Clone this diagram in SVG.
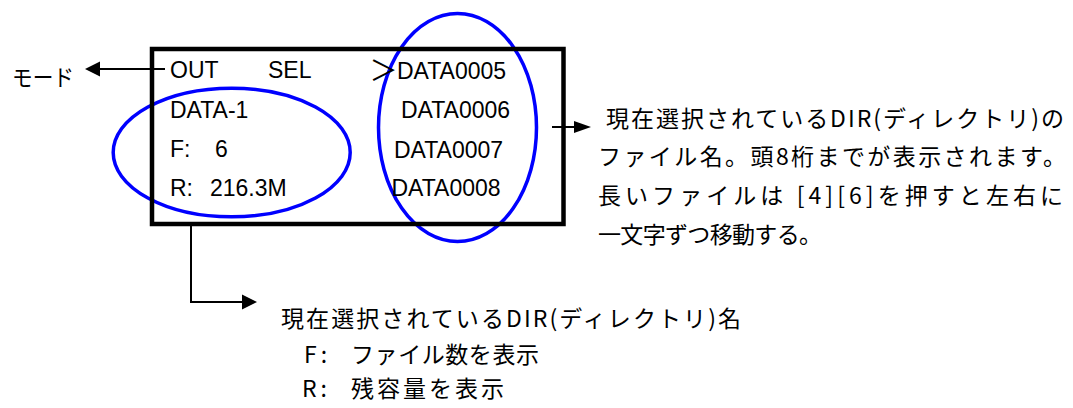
<svg xmlns="http://www.w3.org/2000/svg" width="1073" height="408" viewBox="0 0 1073 408">
<defs>
<style>
.lcd{font-family:"Liberation Sans",Arial,sans-serif;font-size:23px;fill:#000}
.jp{font-family:"Noto Sans CJK JP","Noto Sans CJK SC",sans-serif;font-size:23px;fill:#000}
.ring{fill:none;stroke:#0000ff;stroke-width:3.5}
.line{fill:none;stroke:#000;stroke-width:2}
.head{fill:#000}
</style>
</defs>
<rect width="1073" height="408" fill="#fff"/>
<g id="ellipse-dir">
<ellipse class="ring" cx="231.7" cy="152.5" rx="118.5" ry="64.3"/>
</g>
<g id="ellipse-files">
<ellipse class="ring" cx="457.5" cy="127.5" rx="79" ry="114"/>
</g>
<g id="lcd-screen">
<rect x="152" y="49" width="411.5" height="175" fill="none" stroke="#000" stroke-width="4.5"/>
<text class="lcd" x="170" y="78">OUT</text>
<text class="lcd" x="268" y="78">SEL</text>
<text x="383.5" y="81" text-anchor="middle" font-family="Noto Sans CJK JP,sans-serif" font-size="28" fill="#000">＞</text>
<text class="lcd" x="170" y="118">DATA-1</text>
<text class="lcd" x="170" y="157"><tspan>F:</tspan><tspan x="215">6</tspan></text>
<text class="lcd" x="170" y="196"><tspan>R:</tspan><tspan x="210">216.3M</tspan></text>
<text class="lcd" x="397" y="79">DATA0005</text>
<text class="lcd" x="401" y="118">DATA0006</text>
<text class="lcd" x="394" y="157.5">DATA0007</text>
<text class="lcd" x="391.5" y="196">DATA0008</text>
</g>
<g id="connectors">
<path class="line" d="M165 69 H98"/>
<polygon class="head" points="85,69 100,61.5 100,76.5"/>
<path class="line" d="M552 127 H576"/>
<polygon class="head" points="591,127 574,121 574,133"/>
<path class="line" d="M191 226 V302 H244"/>
<polygon class="head" points="257,302 242,294.5 242,309.5"/>
</g>
<g id="label-mode">
<text class="jp" x="12" y="86" font-size="21" textLength="62" lengthAdjust="spacingAndGlyphs">モード</text>
</g>
<g id="label-files">
<text class="jp" x="606" y="127" textLength="458" lengthAdjust="spacing">現在選択されているDIR(ディレクトリ)の</text>
<text class="jp" x="598" y="165" textLength="468" lengthAdjust="spacing">ファイル名。頭8桁までが表示されます。</text>
<text class="jp" x="598" y="204" textLength="465" lengthAdjust="spacing">長いファイルは [4][6]を押すと左右に</text>
<text class="jp" x="598" y="243" textLength="224" lengthAdjust="spacing">一文字ずつ移動する。</text>
</g>
<g id="label-dir">
<text class="jp" x="281" y="327" textLength="460" lengthAdjust="spacing">現在選択されているDIR(ディレクトリ)名</text>
<text class="jp" x="304" y="363" letter-spacing="4">F:</text>
<text class="jp" x="351" y="363" textLength="188" lengthAdjust="spacing">ファイル数を表示</text>
<text class="jp" x="302" y="397" letter-spacing="4">R:</text>
<text class="jp" x="351" y="397" textLength="153" lengthAdjust="spacing">残容量を表示</text>
</g>
</svg>
